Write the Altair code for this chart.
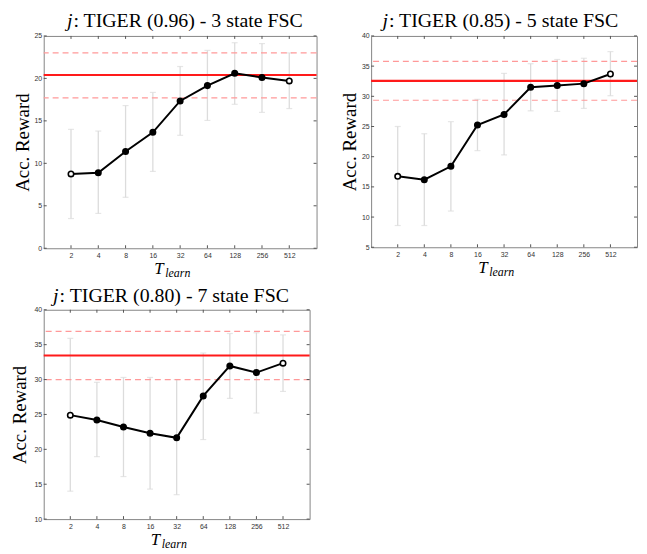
import altair as alt
import pandas as pd

# ---------------- data ----------------
t_learn = [2, 4, 8, 16, 32, 64, 128, 256, 512]

p1_title = ": TIGER (0.96) - 3 state FSC"
p1_mean = [8.75, 8.9, 11.4, 13.65, 17.35, 19.15, 20.6, 20.1, 19.7]
p1_low = [3.5, 4.1, 6.0, 9.05, 13.3, 15.05, 16.95, 16.0, 16.45]
p1_high = [14.0, 13.8, 16.8, 18.35, 21.4, 23.3, 24.2, 24.1, 23.0]
p1_ref = [20.4]
p1_ref_band = [23.0, 17.7]
p1_yticks = [0, 5, 10, 15, 20, 25]

p2_title = ": TIGER (0.85) - 5 state FSC"
p2_mean = [16.75, 16.2, 18.4, 25.25, 27.0, 31.5, 31.8, 32.1, 33.7]
p2_low = [8.6, 8.6, 11.0, 21.0, 20.3, 27.6, 27.5, 28.0, 30.1]
p2_high = [25.0, 23.8, 25.8, 29.5, 33.8, 35.4, 36.1, 36.3, 37.4]
p2_ref = [32.55]
p2_ref_band = [35.8, 29.35]
p2_yticks = [5, 10, 15, 20, 25, 30, 35, 40]

p3_title = ": TIGER (0.80) - 7 state FSC"
p3_mean = [24.9, 24.2, 23.2, 22.3, 21.65, 27.65, 31.95, 31.0, 32.35]
p3_low = [14.0, 18.95, 16.1, 14.3, 13.5, 21.4, 27.3, 25.2, 28.3]
p3_high = [35.9, 29.6, 30.3, 30.3, 30.0, 33.8, 36.6, 36.7, 36.4]
p3_ref = [33.45]
p3_ref_band = [36.9, 30.0]
p3_yticks = [10, 15, 20, 25, 30, 35, 40]

SERIF = "Liberation Serif"
SANS = "Liberation Sans"


def panel(mean, low, high, ref, band, yticks, w, h, title_rest, title_x, title_dy, ytitle_pad):
    df = pd.DataFrame({"t": t_learn, "mean": mean, "low": low, "high": high})
    yscale = alt.Scale(domain=[yticks[0], yticks[-1]], nice=False, zero=False)
    xscale = alt.Scale(type="point", padding=1.07)
    xaxis = alt.Axis(title=None, labelAngle=0, ticks=False, domain=False, grid=False,
                     labelFont=SANS, labelFontSize=7, labelColor="#333333", labelPadding=3)
    yaxis = alt.Axis(title="Acc. Reward", values=yticks, ticks=False, domain=False, grid=False,
                     labelFont=SANS, labelFontSize=7, labelColor="#333333", labelPadding=2,
                     titleFont=SERIF, titleFontSize=19, titleFontWeight="normal",
                     titleColor="black", titlePadding=ytitle_pad)
    X = alt.X("t:O", sort=t_learn, scale=xscale, axis=xaxis)

    def Y(field):
        return alt.Y(field, scale=yscale, axis=yaxis)

    base = alt.Chart(df)
    bars = base.mark_rule(color="#dcdcdc", strokeWidth=1.3).encode(
        x=X, y=Y("low:Q"), y2="high:Q")
    cap_lo = base.mark_tick(color="#dcdcdc", orient="horizontal", size=6, thickness=1.2).encode(
        x=X, y=Y("low:Q"))
    cap_hi = base.mark_tick(color="#dcdcdc", orient="horizontal", size=6, thickness=1.2).encode(
        x=X, y=Y("high:Q"))

    band_rules = alt.Chart(pd.DataFrame({"v": band})).mark_rule(
        color="#ff9999", strokeWidth=1.2, strokeDash=[6, 4]).encode(y=Y("v:Q"))
    ref_rule = alt.Chart(pd.DataFrame({"v": ref})).mark_rule(
        color="#ff1a1a", strokeWidth=2.2).encode(y=Y("v:Q"))

    line = base.mark_line(color="black", strokeWidth=2).encode(x=X, y=Y("mean:Q"))
    pts = base.mark_point(filled=False, size=30, strokeWidth=1.6, opacity=1).encode(
        x=X, y=Y("mean:Q"),
        stroke=alt.value("black"),
        fill=alt.condition("datum.t == 2 || datum.t == 512", alt.value("white"), alt.value("black")))

    # inward ticks on all four sides
    xt = alt.Chart(pd.DataFrame({"t": t_learn}))
    xt_bot = xt.mark_rule(color="#555555", strokeWidth=1).encode(
        x=X, y=alt.value(h), y2=alt.value(h - 3))
    xt_top = xt.mark_rule(color="#555555", strokeWidth=1).encode(
        x=X, y=alt.value(0), y2=alt.value(3))
    yt = alt.Chart(pd.DataFrame({"v": yticks}))
    yt_l = yt.mark_rule(color="#555555", strokeWidth=1).encode(
        y=Y("v:Q"), x=alt.value(0), x2=alt.value(3))
    yt_r = yt.mark_rule(color="#555555", strokeWidth=1).encode(
        y=Y("v:Q"), x=alt.value(w - 3), x2=alt.value(w))

    one = alt.Chart(pd.DataFrame({"a": [0]}))
    t_j = one.mark_text(font=SERIF, fontSize=20, fontStyle="italic", align="right",
                        baseline="alphabetic", color="black").encode(
        x=alt.value(title_x - 1), y=alt.value(title_dy), text=alt.value("j"))
    t_rest = one.mark_text(font=SERIF, fontSize=20, align="left",
                           baseline="alphabetic", color="black").encode(
        x=alt.value(title_x), y=alt.value(title_dy), text=alt.value(title_rest))
    x_T = one.mark_text(font=SERIF, fontSize=17, fontStyle="italic", align="left",
                        baseline="alphabetic", color="black").encode(
        x=alt.value(w / 2 - 26), y=alt.value(h + 26), text=alt.value("T"))
    x_sub = one.mark_text(font=SERIF, fontSize=12, fontStyle="italic", align="left",
                          baseline="alphabetic", color="black").encode(
        x=alt.value(w / 2 - 15), y=alt.value(h + 29), text=alt.value("learn"))

    return alt.layer(bars, cap_lo, cap_hi, band_rules, ref_rule, line, pts,
                     xt_bot, xt_top, yt_l, yt_r, t_j, t_rest, x_T, x_sub).properties(
        width=w, height=h)


p1 = panel(p1_mean, p1_low, p1_high, p1_ref, p1_ref_band, p1_yticks, 275, 214,
           p1_title, 30, -9, 2)
p2 = panel(p2_mean, p2_low, p2_high, p2_ref, p2_ref_band, p2_yticks, 268, 213,
           p2_title, 18, -9, 2)
p3 = panel(p3_mean, p3_low, p3_high, p3_ref, p3_ref_band, p3_yticks, 268, 211,
           p3_title, 16, -8, 5)

row1 = alt.hconcat(p1, p2, spacing=21)
chart = alt.vconcat(row1, p3, spacing=5).properties(
    padding={"left": 1, "top": 0, "right": 0, "bottom": 0}
).configure_view(stroke="#858585", strokeWidth=1).configure_concat(spacing=5)

chart.save("out.html", embed_options={"renderer": "svg", "actions": False})
